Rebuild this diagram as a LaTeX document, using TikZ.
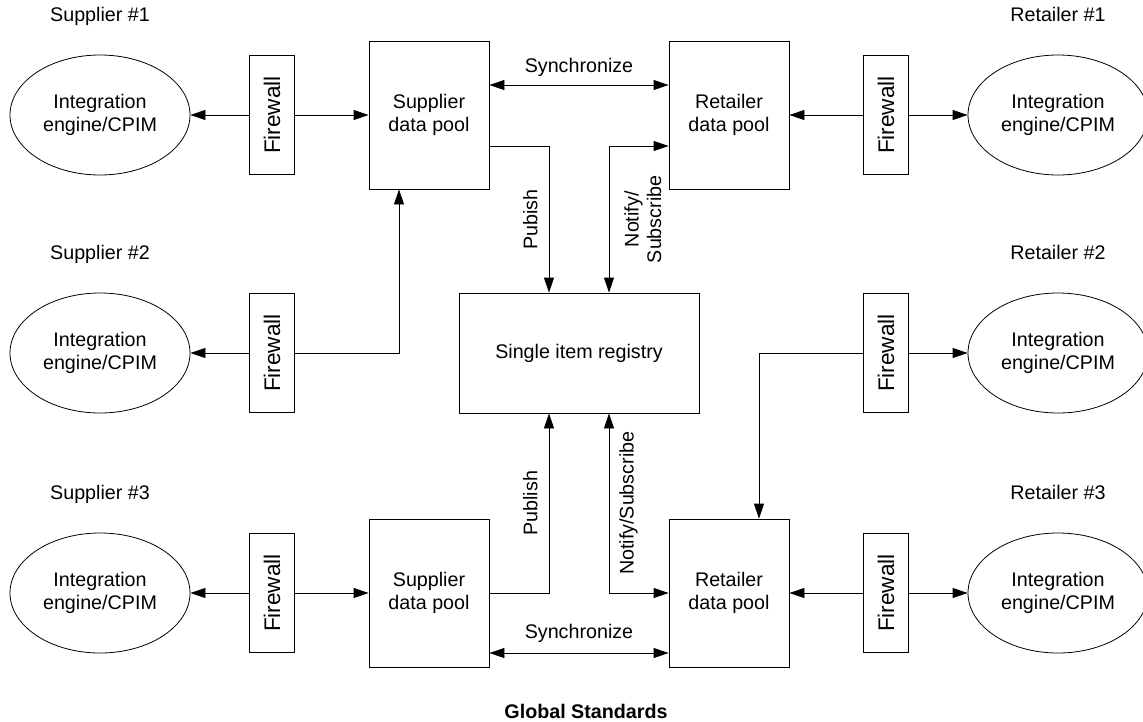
\documentclass[tikz,border=0pt]{standalone}
\usepackage{fontspec}
\setmainfont{Liberation Sans}
\usetikzlibrary{shapes.geometric,arrows.meta,positioning}

\begin{document}
\begin{tikzpicture}[x=1pt, y=-1pt, line width=0.8pt,
    >={Triangle[length=15pt,width=10pt]},
    every node/.style={font=\fontsize{19.7}{22.5}\selectfont},
    engine/.style={draw, ellipse, minimum width=180pt, minimum height=120pt,
      inner sep=0pt, align=center},
    wall/.style={draw, minimum width=45pt, minimum height=119pt, inner sep=0pt,
      font=\fontsize{22.6}{26}\selectfont},
    pool/.style={draw, minimum width=120pt, minimum height=148pt, align=center},
    regbox/.style={draw, minimum width=240pt, minimum height=120pt},
    party/.style={above=25pt of #1, text height=14pt, text depth=4pt},
  ]
  \useasboundingbox (0,0) rectangle (1143,721);

  % suppliers
  \node[engine] (sup1eng) at (100,115) {Integration\\engine/CPIM};
  \node[engine] (sup2eng) at (100,353) {Integration\\engine/CPIM};
  \node[engine] (sup3eng) at (100,593) {Integration\\engine/CPIM};
  \node[party=sup1eng] (sup1lbl) {Supplier \#1};
  \node[party=sup2eng] (sup2lbl) {Supplier \#2};
  \node[party=sup3eng] (sup3lbl) {Supplier \#3};
  \node[wall] (sup1fw) at (272,115) {\rotatebox{90}{Firewall}};
  \node[wall] (sup2fw) at (272,353) {\rotatebox{90}{Firewall}};
  \node[wall] (sup3fw) at (272,593) {\rotatebox{90}{Firewall}};
  \node[pool] (suppool1) at (429,115) {Supplier\\data pool};
  \node[pool] (suppool3) at (429,593) {Supplier\\data pool};

  % retailers
  \node[engine] (ret1eng) at (1058,115) {Integration\\engine/CPIM};
  \node[engine] (ret2eng) at (1058,353) {Integration\\engine/CPIM};
  \node[engine] (ret3eng) at (1058,593) {Integration\\engine/CPIM};
  \node[party=ret1eng] (ret1lbl) {Retailer \#1};
  \node[party=ret2eng] (ret2lbl) {Retailer \#2};
  \node[party=ret3eng] (ret3lbl) {Retailer \#3};
  \node[wall] (ret1fw) at (886,115) {\rotatebox{90}{Firewall}};
  \node[wall] (ret2fw) at (886,353) {\rotatebox{90}{Firewall}};
  \node[wall] (ret3fw) at (886,593) {\rotatebox{90}{Firewall}};
  \node[pool] (retpool1) at (729,115) {Retailer\\data pool};
  \node[pool] (retpool3) at (729,593) {Retailer\\data pool};

  \node[regbox] (registry) at (579,353) {Single item registry};
  \node[font=\fontsize{19.7}{22.5}\selectfont\bfseries] (gstd) at (586,711) {Global Standards};

  % links
  \draw[->] (sup1fw) -- (sup1eng);
  \draw[->] (sup1fw) -- (suppool1);
  \draw[->] (sup2fw) -- (sup2eng);
  \draw[->] (sup2fw.east) -| ([xshift=-30pt]suppool1.south);
  \draw[->] (sup3fw) -- (sup3eng);
  \draw[->] (sup3fw) -- (suppool3);
  \draw[->] (ret1fw) -- (retpool1);
  \draw[->] (ret1fw) -- (ret1eng);
  \draw[->] (ret2fw) -- (ret2eng);
  \draw[->] (ret2fw.west) -| ([xshift=30pt]retpool3.north);
  \draw[->] (ret3fw) -- (retpool3);
  \draw[->] (ret3fw) -- (ret3eng);

  \draw[<->] ([yshift=30pt]suppool1.east) -- ([yshift=30pt]retpool1.west)
    node[midway, above=5pt] {Synchronize};
  \draw[<->] ([yshift=-60pt]suppool3.east) -- ([yshift=-60pt]retpool3.west)
    node[midway, above=7pt] {Synchronize};

  \draw[->] ([yshift=-31pt]suppool1.east) -| ([xshift=-30pt]registry.north)
    node[pos=.75, rotate=90, anchor=south, inner ysep=11pt] {Pubish};
  \draw[<->] ([yshift=-31pt]retpool1.west) -| ([xshift=30pt]registry.north)
    node[pos=.75, rotate=90, anchor=north, align=center, inner ysep=15pt] {Notify/\\Subscribe};
  \draw[->] (suppool3.east) -| ([xshift=-30pt]registry.south)
    node[pos=.75, rotate=90, anchor=south, inner ysep=11pt] {Publish};
  \draw[<->] ([xshift=30pt]registry.south) |- (retpool3.west)
    node[pos=.25, rotate=90, anchor=north, inner ysep=10pt] {Notify/Subscribe};
\end{tikzpicture}
\end{document}
